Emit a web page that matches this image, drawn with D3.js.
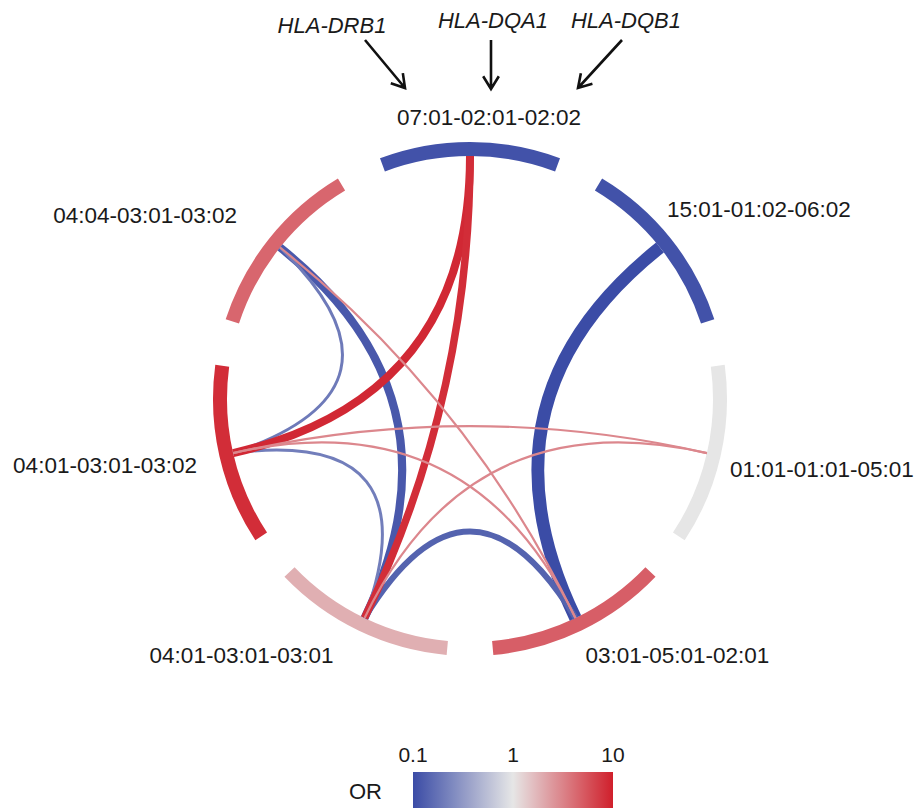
<!DOCTYPE html>
<html><head><meta charset="utf-8">
<script src="https://cdn.jsdelivr.net/npm/d3@7"></script>
<style>body{margin:0;background:#fff}svg{display:block}</style>
</head><body>
<svg id="chart" width="918" height="808"></svg>
<script>
// ---------- data ----------
const haplotypes = ["07:01-02:01-02:02","15:01-01:02-06:02","01:01-01:01-05:01","03:01-05:01-02:01","04:01-03:01-03:01","04:01-03:01-03:02","04:04-03:01-03:02"];
const haplotypeOR = [0.11, 0.11, 1.0, 4.8, 1.9, 8.5, 4.4];
const linkSource = [1, 6, 3, 6, 5, 0, 0, 6, 5, 5, 2];
const linkTarget = [3, 4, 4, 5, 4, 5, 4, 3, 3, 2, 4];
const linkOR     = [0.1, 0.12, 0.14, 0.2, 0.21, 9, 8.5, 3, 3, 3, 3];
const linkWeight = [12.5, 8, 6, 3, 3, 8, 7.5, 2.2, 2.2, 2.2, 2.2];
const geneNames = ["HLA-DRB1","HLA-DQA1","HLA-DQB1"];
const legendTicks = [0.1, 1, 10];
const legendTitle = "OR";

// ---------- layout ----------
const W = 918, H = 808;
const cx = 470, cy = 399, rIn = 243, rOut = 257;
const n = haplotypes.length;
const step = 2 * Math.PI / n;
const halfSpan = 20.5 * Math.PI / 180;
const labelR = 280;
const labelAnchor = ["middle","start","start","start","end","end","end"];
const labelNudge = [[19,6],[-22,-7],[-13,16],[-6,12],[-15,12],[0,12],[-14,-1]];
const font = "'Liberation Sans', Arial, Helvetica, sans-serif";

const svg = d3.select("#chart");
const color = d3.scaleLog().domain([0.1, 1, 10]).range(["#3b4ca6", "#e6e6e6", "#d01f2b"]).clamp(true);
const widthScale = d3.scaleLinear().domain([0, 12.5]).range([0, 12.5]);

const angle = i => i * step;
const pt = (a, r) => [cx + r * Math.sin(a), cy - r * Math.cos(a)];

// arcs
const arcGen = d3.arc().innerRadius(rIn).outerRadius(rOut);
const g = svg.append("g");
g.selectAll("path.seg").data(haplotypes).join("path")
  .attr("class", "seg")
  .attr("transform", `translate(${cx},${cy})`)
  .attr("d", (d, i) => arcGen({startAngle: angle(i) - halfSpan, endAngle: angle(i) + halfSpan}))
  .attr("fill", (d, i) => color(haplotypeOR[i]));

// links
function linkPath(i, j) {
  const p0 = pt(angle(i), rIn), p2 = pt(angle(j), rIn);
  const mx = (p0[0] + p2[0]) / 2, my = (p0[1] + p2[1]) / 2;
  const distMid = Math.hypot(mx - cx, my - cy);
  const chord = Math.hypot(p2[0] - p0[0], p2[1] - p0[1]);
  const h = Math.min(0.82 * chord, distMid);
  let c = [cx, cy];
  if (distMid > 1e-6) c = [mx + (cx - mx) / distMid * h, my + (cy - my) / distMid * h];
  const p = d3.path();
  p.moveTo(p0[0], p0[1]);
  p.quadraticCurveTo(c[0], c[1], p2[0], p2[1]);
  return p.toString();
}
const links = linkSource.map((s, k) => ({s, t: linkTarget[k], or: linkOR[k], w: linkWeight[k]}));
g.selectAll("path.link").data(links).join("path")
  .attr("class", "link")
  .attr("d", d => linkPath(d.s, d.t))
  .attr("fill", "none")
  .attr("stroke", d => color(d.or))
  .attr("stroke-width", d => widthScale(d.w))
  .attr("stroke-linecap", "butt");

// haplotype labels
g.selectAll("text.lab").data(haplotypes).join("text")
  .attr("class", "lab")
  .attr("x", (d, i) => pt(angle(i), labelR)[0] + labelNudge[i][0])
  .attr("y", (d, i) => pt(angle(i), labelR)[1] + labelNudge[i][1])
  .attr("text-anchor", (d, i) => labelAnchor[i])
  .attr("font-family", font).attr("font-size", 22.5).attr("fill", "#1a1a1a")
  .text(d => d);

// gene annotations with arrows
const geneLabelPos = [[332, 33], [493, 28], [626, 28]];
const geneArrows = [[[365, 40], [405, 88]], [[491, 40], [491, 89]], [[622, 40], [578, 88]]];
svg.selectAll("text.gene").data(geneNames).join("text")
  .attr("class", "gene")
  .attr("x", (d, i) => geneLabelPos[i][0]).attr("y", (d, i) => geneLabelPos[i][1])
  .attr("text-anchor", "middle").attr("font-family", font).attr("font-style", "italic")
  .attr("font-size", 22).attr("fill", "#1a1a1a").text(d => d);
geneArrows.forEach(([a, b]) => {
  const ang = Math.atan2(b[1] - a[1], b[0] - a[0]);
  const L = 15, spread = 0.55;
  const h1 = [b[0] - L * Math.cos(ang - spread), b[1] - L * Math.sin(ang - spread)];
  const h2 = [b[0] - L * Math.cos(ang + spread), b[1] - L * Math.sin(ang + spread)];
  const p = d3.path();
  p.moveTo(a[0], a[1]); p.lineTo(b[0], b[1]);
  p.moveTo(h1[0], h1[1]); p.lineTo(b[0], b[1]); p.lineTo(h2[0], h2[1]);
  svg.append("path").attr("d", p.toString()).attr("fill", "none")
    .attr("stroke", "#111").attr("stroke-width", 2.6).attr("stroke-linejoin", "miter");
});

// legend
const lx = d3.scaleLog().domain([0.1, 10]).range([413, 613]);
const defs = svg.append("defs");
const grad = defs.append("linearGradient").attr("id", "orgrad").attr("x1", "0%").attr("x2", "100%");
d3.range(0, 1.0001, 0.05).forEach(f => {
  grad.append("stop").attr("offset", (f * 100) + "%").attr("stop-color", color(Math.pow(10, -1 + 2 * f)));
});
svg.append("rect").attr("x", lx(0.1)).attr("y", 772).attr("width", lx(10) - lx(0.1)).attr("height", 36)
  .attr("fill", "url(#orgrad)");
svg.selectAll("text.tick").data(legendTicks).join("text")
  .attr("class", "tick").attr("x", d => lx(d)).attr("y", 762)
  .attr("text-anchor", "middle").attr("font-family", font).attr("font-size", 21).attr("fill", "#1a1a1a")
  .text(d => d3.format("~g")(d));
svg.append("text").attr("x", 382).attr("y", 799).attr("text-anchor", "end")
  .attr("font-family", font).attr("font-size", 22).attr("fill", "#1a1a1a").text(legendTitle);
</script>
</body></html>
